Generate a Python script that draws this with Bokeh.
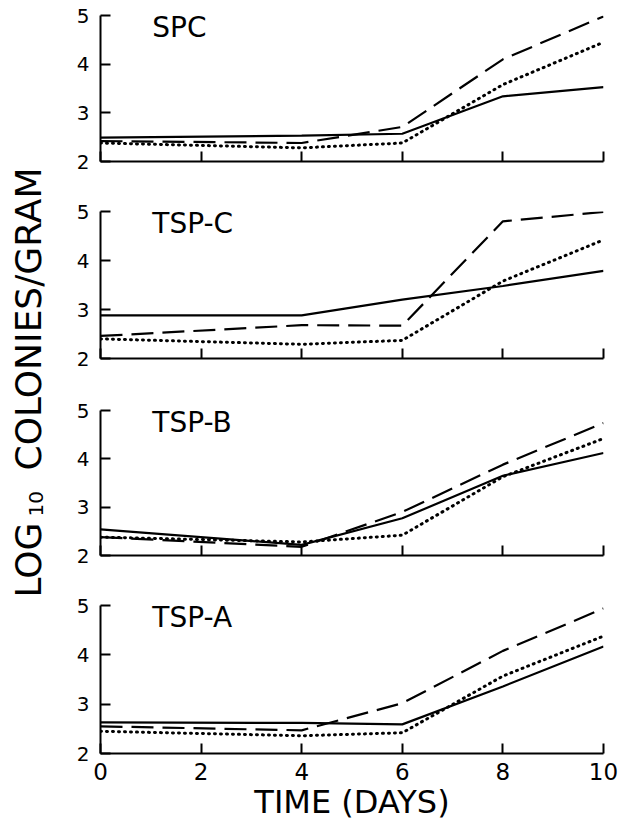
from math import pi
from bokeh.plotting import figure
from bokeh.layouts import row, column
from bokeh.models import Range1d, FixedTicker, Label
from bokeh.core.properties import value
from bokeh.embed import file_html
from bokeh.resources import INLINE

# ---------------- data ----------------
days = [0, 4, 6, 8, 10]
panel_names = ["SPC", "TSP-C", "TSP-B", "TSP-A"]

spc_solid = [2.49, 2.53, 2.57, 3.34, 3.53]
spc_dashed = [2.42, 2.38, 2.71, 4.10, 4.98]
spc_dotted = [2.38, 2.28, 2.38, 3.58, 4.45]

tspc_solid = [2.88, 2.88, 3.20, 3.48, 3.79]
tspc_dashed = [2.46, 2.68, 2.67, 4.80, 4.99]
tspc_dotted = [2.40, 2.29, 2.37, 3.58, 4.42]

tspb_solid = [2.54, 2.22, 2.77, 3.65, 4.12]
tspb_dashed = [2.38, 2.18, 2.90, 3.88, 4.74]
tspb_dotted = [2.38, 2.28, 2.42, 3.63, 4.42]

tspa_solid = [2.63, 2.62, 2.59, 3.36, 4.17]
tspa_dashed = [2.55, 2.47, 3.02, 4.08, 4.94]
tspa_dotted = [2.45, 2.36, 2.42, 3.57, 4.38]

x_ticks = [0, 2, 4, 6, 8, 10]
y_ticks = [2, 3, 4, 5]
x_title = "TIME (DAYS)"
y_title_main = "LOG"
y_title_sub = "10"
y_title_rest = "COLONIES/GRAM"

series = [
    (spc_solid, spc_dashed, spc_dotted),
    (tspc_solid, tspc_dashed, tspc_dotted),
    (tspb_solid, tspb_dashed, tspb_dotted),
    (tspa_solid, tspa_dashed, tspa_dotted),
]

FONT = "DejaVu Sans"

fig_heights = [197, 199, 195, 239]
border_tops = [15, 14, 14, 14]
border_bottoms = [36, 38, 36, 77]

panels = []
for i, (name, (solid, dashed, dotted)) in enumerate(zip(panel_names, series)):
    last = i == len(panel_names) - 1
    p = figure(width=581, height=fig_heights[i],
               x_range=Range1d(0, 10), y_range=Range1d(2, 5),
               output_backend="svg", toolbar_location=None, title=None,
               min_border_left=50, min_border_right=28,
               min_border_top=border_tops[i], min_border_bottom=border_bottoms[i])
    p.outline_line_color = None
    p.grid.visible = False
    p.background_fill_color = "white"
    p.border_fill_color = "white"

    p.line(days, solid, line_color="black", line_width=2.2)
    p.line(days, dashed, line_color="black", line_width=2.2, line_dash="22 9")
    p.line(days, dotted, line_color="black", line_width=3, line_dash="1 5",
           line_cap="round")

    xa = p.xaxis[0]
    xa.ticker = FixedTicker(ticks=x_ticks)
    xa.axis_line_width = 2
    xa.axis_line_color = "black"
    xa.major_tick_line_width = 2
    xa.major_tick_line_color = "black"
    xa.major_tick_in = 10
    xa.major_tick_out = 0
    xa.minor_tick_line_color = None
    if last:
        xa.major_label_text_font = FONT
        xa.major_label_text_font_size = "23px"
        xa.major_label_text_color = "black"
        xa.major_label_standoff = 9
        xa.axis_label = x_title
        xa.axis_label_text_font = FONT
        xa.axis_label_text_font_size = "32px"
        xa.axis_label_text_font_style = "normal"
        xa.axis_label_text_color = "black"
        xa.axis_label_standoff = 0
    else:
        xa.major_label_overrides = {t: "" for t in x_ticks}
        xa.major_label_text_font_size = "1px"

    ya = p.yaxis[0]
    ya.ticker = FixedTicker(ticks=y_ticks)
    ya.axis_line_width = 2
    ya.axis_line_color = "black"
    ya.major_tick_line_width = 2
    ya.major_tick_line_color = "black"
    ya.major_tick_in = 10
    ya.major_tick_out = 0
    ya.minor_tick_line_color = None
    ya.major_label_text_font = FONT
    ya.major_label_text_font_size = "20px"
    ya.major_label_text_color = "black"
    ya.major_label_standoff = 11

    p.add_layout(Label(x=1.03, y=4.75, text=name, text_font=FONT,
                       text_font_size="28px", text_color="black",
                       text_align="left", text_baseline="middle"))
    panels.append(p)

# narrow figure carrying the shared y-axis title
lab = figure(width=50, height=830, x_range=Range1d(0, 50), y_range=Range1d(830, 0),
             output_backend="svg", toolbar_location=None, title=None,
             x_axis_location=None, y_axis_location=None, min_border=0)
lab.outline_line_color = None
lab.grid.visible = False
lab.text(x=[28], y=[597], text=[y_title_main], angle=pi / 2,
         text_align="left", text_baseline="middle",
         text_font=value(FONT), text_font_size="36px", text_color="black")
lab.text(x=[35], y=[516], text=[y_title_sub], angle=pi / 2,
         text_align="left", text_baseline="middle",
         text_font=value(FONT), text_font_size="20px", text_color="black")
lab.text(x=[28], y=[470], text=[y_title_rest], angle=pi / 2,
         text_align="left", text_baseline="middle",
         text_font=value(FONT), text_font_size="36px", text_color="black")

layout = row(lab, column(*panels, spacing=0), spacing=0)

open("out.html", "w").write(file_html(layout, INLINE))
